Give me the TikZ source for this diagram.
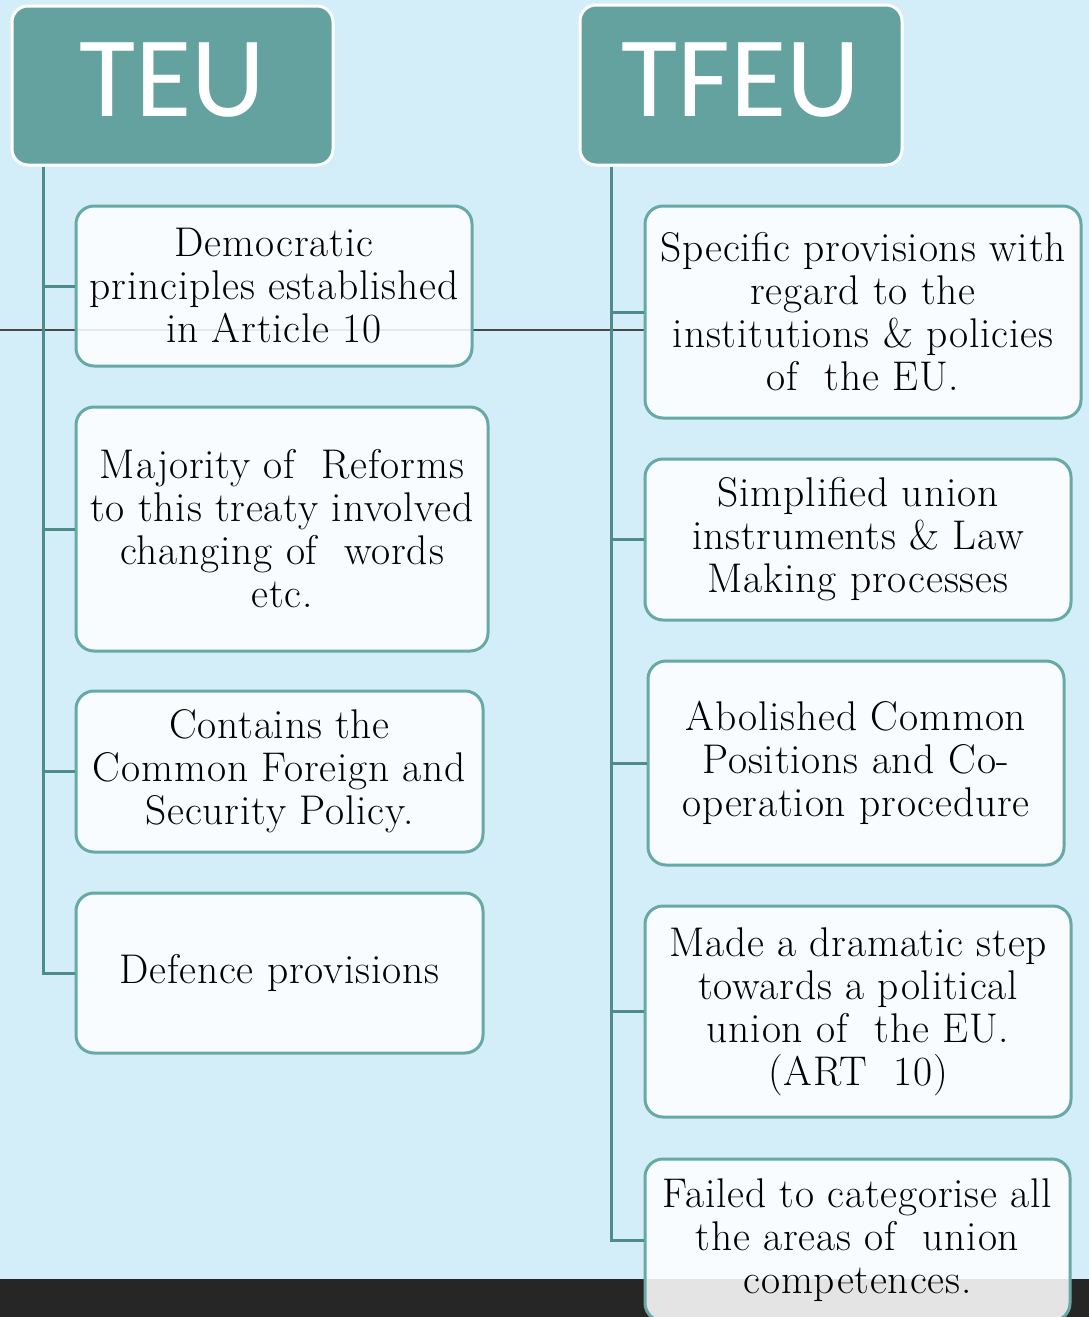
\documentclass[tikz,border=0pt]{standalone}
\usepackage{fontspec}
\setmainfont{Latin Modern Roman}[LetterSpace=2.0]
\newfontfamily\headfont{Carlito}
\definecolor{bg}{HTML}{D3EEF8}
\definecolor{headfill}{HTML}{63A29E}
\definecolor{boxdraw}{HTML}{67A9A5}
\definecolor{trunk}{HTML}{4E8C88}
\definecolor{hline}{HTML}{454A4A}
\definecolor{bar}{HTML}{262626}
\begin{document}
\begin{tikzpicture}[x=1pt,y=-1pt,
  header/.style={draw=white, line width=3pt, fill=headfill, rounded corners=16pt,
    text=white, font=\headfont\fontsize{115}{115}\selectfont, text depth=11pt, inner sep=0pt},
  item/.style={draw=boxdraw, line width=3pt, fill=white, fill opacity=0.88, text opacity=1,
    rounded corners=18pt, align=center, inner sep=0pt, font=\fontsize{41.5}{43}\selectfont},
  branch/.style={draw=trunk, line width=3pt},
  refline/.style={draw=hline, line width=2.5pt}]
\useasboundingbox (0,0) rectangle (1089,1317);
\clip (0,0) rectangle (1089,1317);
\fill[bg] (0,0) rectangle (1089,1317);
\fill[bar] (0,1279) rectangle (1089,1317);

% headers
\node[header, minimum width=321pt, minimum height=159pt] (teu) at (172.5,85.5) {TEU};
\node[header, minimum width=322pt, minimum height=160pt] (tfeu) at (741,85) {TFEU};

% trunk coordinates
\coordinate (tl) at ([xshift=33pt]teu.south west);
\coordinate (tr) at ([xshift=33pt]tfeu.south west);

% box positions
\path (274,286) coordinate (pl1) (282,529) coordinate (pl2) (279.5,771.5) coordinate (pl3) (279.5,973) coordinate (pl4);
\path (863,312) coordinate (pr1) (858,539.5) coordinate (pr2) (856,763) coordinate (pr3) (858,1011.5) coordinate (pr4) (857.5,1240) coordinate (pr5);

% reference line behind boxes
\coordinate (hl) at (0,330);
\draw[refline] (hl) -- (hl -| 645,0);

\node[item, minimum width=396pt, minimum height=160pt] (l1) at (pl1)
  {Democratic\\principles established\\in Article 10};
\node[item, minimum width=412pt, minimum height=244pt] (l2) at (pl2)
  {Majority of~ Reforms\\to this treaty involved\\changing of~ words\\etc.};
\node[item, minimum width=407pt, minimum height=161pt] (l3) at (pl3)
  {Contains the\\Common Foreign and\\Security Policy.};
\node[item, minimum width=407pt, minimum height=160pt] (l4) at (pl4)
  {Defence provisions};

\node[item, minimum width=436pt, minimum height=212pt] (r1) at (pr1)
  {Specific provisions with\\regard to the\\institutions \& policies\\of~ the EU.};
\node[item, minimum width=426pt, minimum height=161pt] (r2) at (pr2)
  {Simplified union\\instruments \& Law\\Making processes};
\node[item, minimum width=416pt, minimum height=204pt] (r3) at (pr3)
  {Abolished Common\\Positions and Co-\\operation procedure};
\node[item, minimum width=426pt, minimum height=211pt] (r4) at (pr4)
  {Made a dramatic step\\towards a political\\union of~ the EU.\\(ART~ 10)};
\node[item, minimum width=425pt, minimum height=162pt] (r5) at (pr5)
  {Failed to categorise all\\the areas of~ union\\competences.};

% connectors
\draw[branch] (tl) |- (l4.west);
\foreach \n in {l1,l2,l3} \draw[branch] (tl |- \n.west) -- (\n.west);
\draw[branch] (tr) |- (r5.west);
\foreach \n in {r1,r2,r3,r4} \draw[branch] (tr |- \n.west) -- (\n.west);
\end{tikzpicture}
\end{document}
